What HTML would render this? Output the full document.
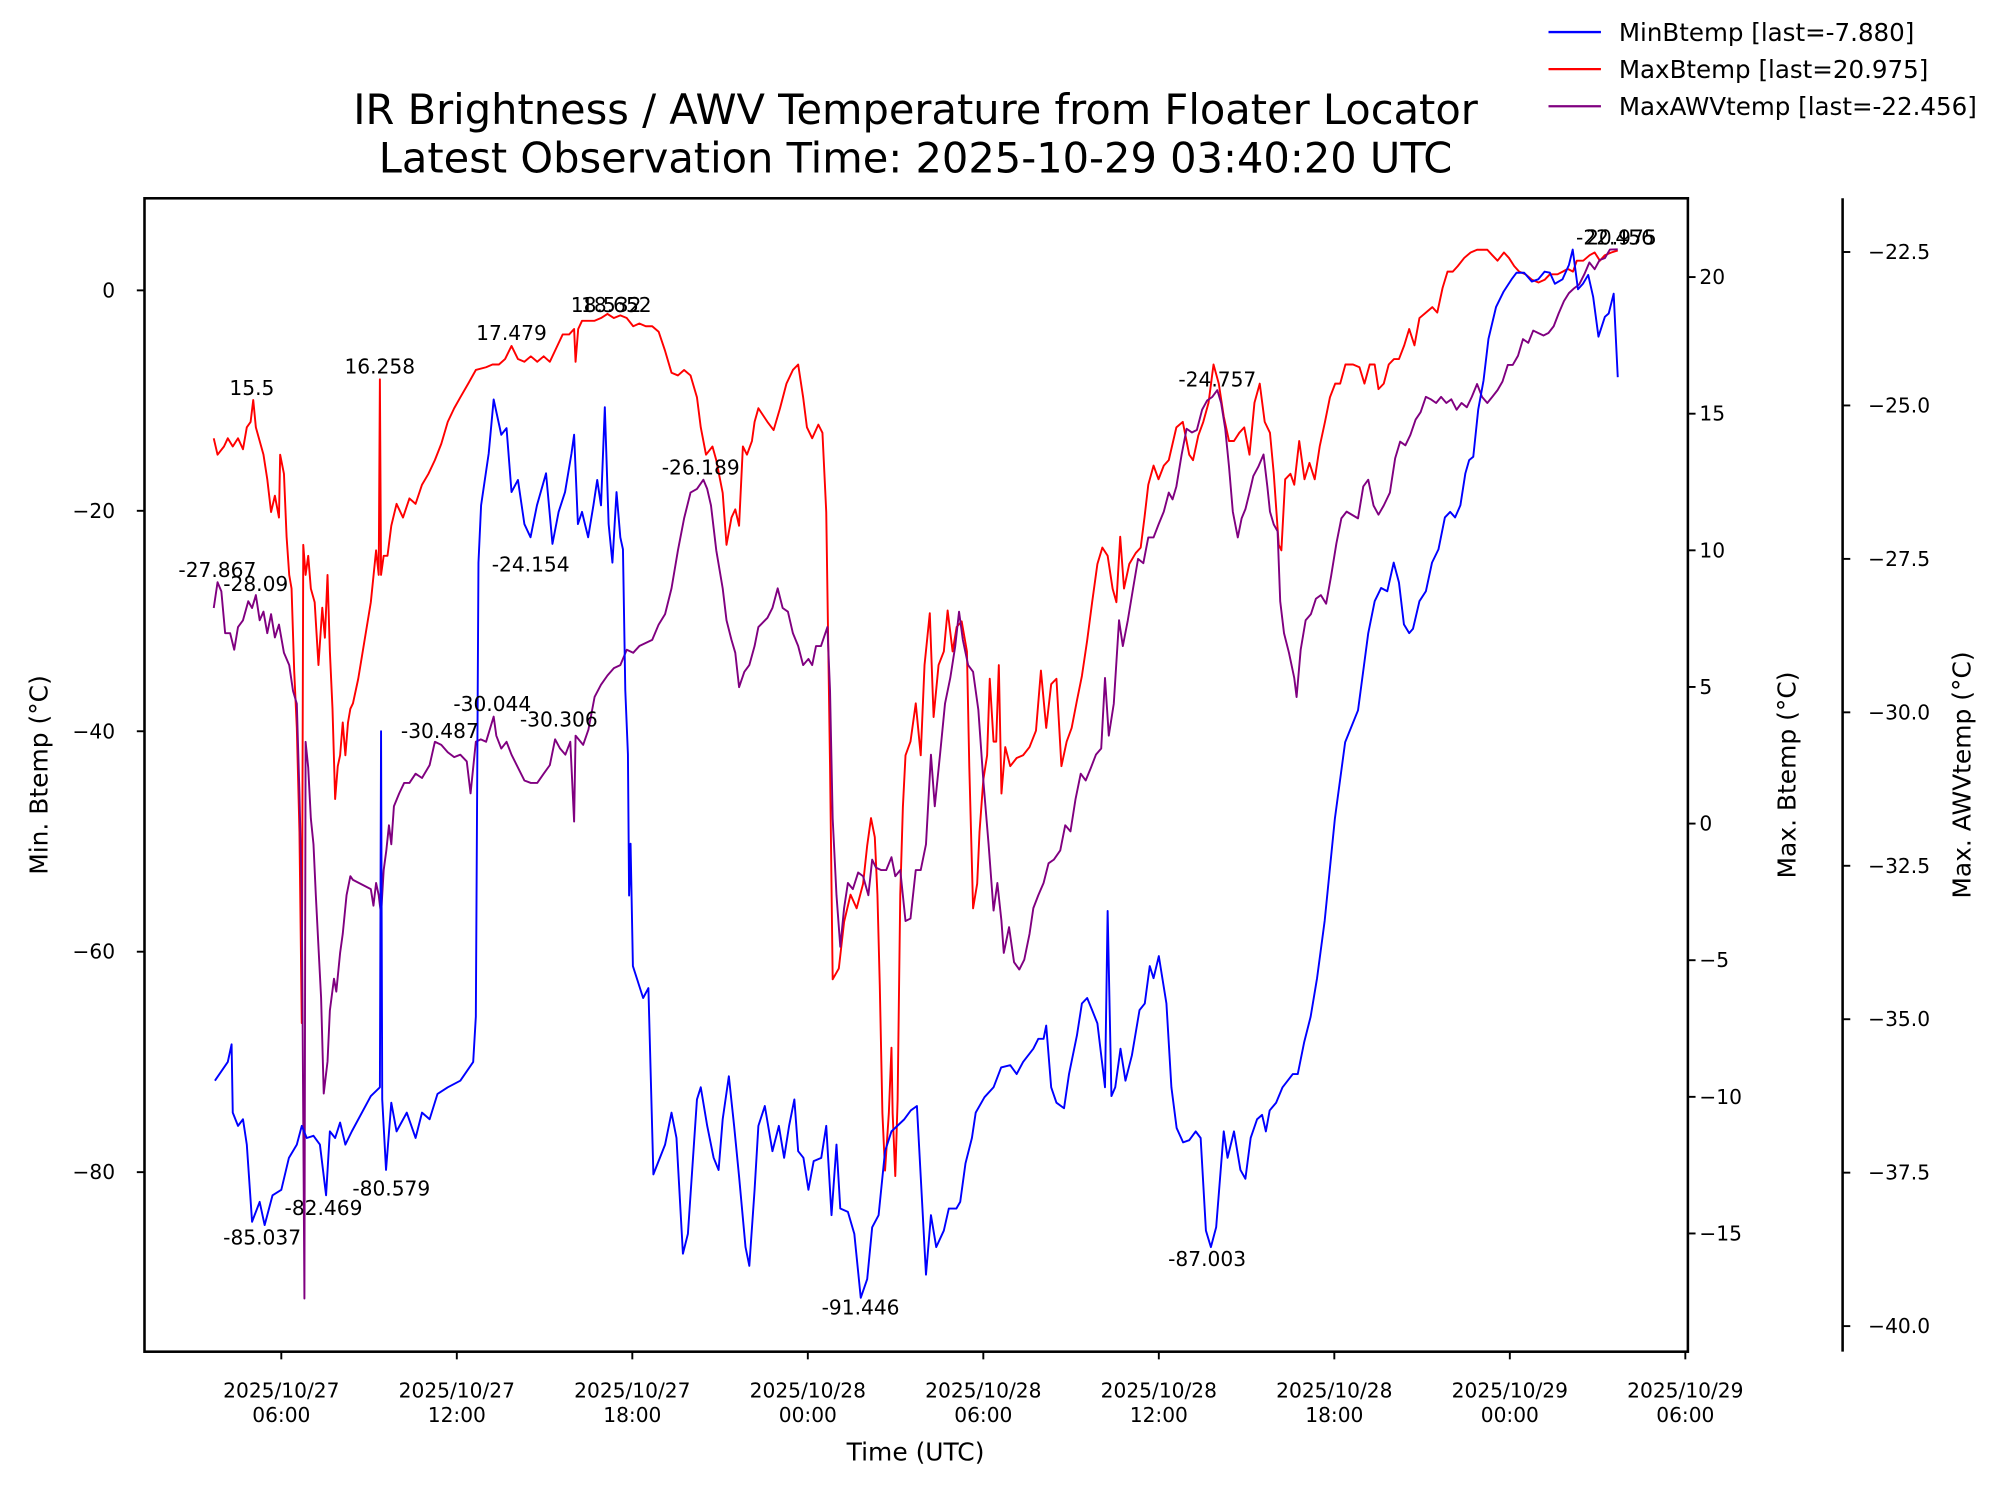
<!DOCTYPE html>
<html><head><meta charset="utf-8"><style>
html,body{margin:0;padding:0;background:#fff}
svg{display:block;font-family:"DejaVu Sans","Liberation Sans",sans-serif}
</style></head><body>
<svg id="chart" width="2005" height="1495" viewBox="0 0 1568 1169" xmlns="http://www.w3.org/2000/svg">
<rect width="1568" height="1169" fill="#fff"/>
<g id="title" font-size="32.5" text-anchor="middle" fill="#000">
<text x="716" y="97">IR Brightness / AWV Temperature from Floater Locator</text>
<text x="716" y="135">Latest Observation Time: 2025-10-29 03:40:20 UTC</text>
</g>
<g id="legend" font-size="19.2" fill="#000">
<g><line x1="1211" y1="25" x2="1252" y2="25" stroke="#0000ff" stroke-width="1.8"/><text x="1266" y="32">MinBtemp [last=-7.880]</text></g>
<g><line x1="1211" y1="54" x2="1252" y2="54" stroke="#ff0000" stroke-width="1.8"/><text x="1266" y="61">MaxBtemp [last=20.975]</text></g>
<g><line x1="1211" y1="83" x2="1252" y2="83" stroke="#800080" stroke-width="1.8"/><text x="1266" y="90">MaxAWVtemp [last=-22.456]</text></g>
</g>
<g id="series"></g>
<g id="axes"></g>
<g id="annots" font-size="15.8" text-anchor="middle" fill="#000"></g>
<text x="716" y="1142" font-size="19.5" text-anchor="middle">Time (UTC)</text>
<text transform="translate(37,606) rotate(-90)" font-size="19.5" text-anchor="middle">Min. Btemp (°C)</text>
<text transform="translate(1404,606) rotate(-90)" font-size="19.5" text-anchor="middle">Max. Btemp (°C)</text>
<text transform="translate(1541,606) rotate(-90)" font-size="19.5" text-anchor="middle">Max. AWVtemp (°C)</text>
</svg>
<script>
const tMin=[3.73,4.17,4.30,4.34,4.52,4.69,4.82,5.0,5.26,5.43,5.70,6.0,6.26,6.53,6.70,6.87,7.10,7.32,7.53,7.66,7.84,8.01,8.19,8.41,9.06,9.37,9.41,9.45,9.58,9.76,9.94,10.29,10.59,10.81,11.07,11.34,11.69,12.12,12.56,12.65,12.74,12.83,13.09,13.26,13.52,13.70,13.87,14.09,14.31,14.52,14.74,15.05,15.27,15.48,15.70,15.92,16.01,16.14,16.28,16.49,16.67,16.80,16.93,17.06,17.19,17.32,17.46,17.59,17.68,17.76,17.85,17.89,17.94,18.02,18.37,18.55,18.72,19.12,19.34,19.51,19.73,19.90,20.21,20.34,20.56,20.78,20.95,21.09,21.30,21.48,21.65,21.87,22.0,22.18,22.31,22.53,22.79,23.01,23.19,23.36,23.54,23.67,23.85,24.02,24.20,24.46,24.63,24.81,24.98,25.11,25.37,25.59,25.81,26.03,26.20,26.42,26.64,26.86,27.30,27.52,27.73,27.86,28.04,28.21,28.39,28.65,28.82,29.08,29.21,29.39,29.61,29.74,30.04,30.35,30.61,30.92,31.14,31.36,31.71,31.88,32.06,32.15,32.32,32.50,32.76,32.93,33.20,33.37,33.55,33.72,33.90,34.08,34.16,34.25,34.38,34.51,34.69,34.86,35.08,35.34,35.52,35.69,35.82,36.0,36.26,36.43,36.61,36.83,37.04,37.26,37.43,37.61,37.78,37.96,38.22,38.35,38.57,38.79,38.96,39.14,39.36,39.53,39.66,39.79,40.01,40.23,40.58,40.75,40.97,41.19,41.41,41.67,42.02,42.37,42.81,43.16,43.38,43.60,43.81,44.03,44.21,44.38,44.56,44.69,44.91,45.13,45.34,45.56,45.78,45.96,46.13,46.31,46.48,46.61,46.75,46.92,47.10,47.27,47.53,47.79,48.06,48.23,48.49,48.75,48.97,49.19,49.37,49.54,49.80,50.02,50.15,50.33,50.50,50.68,50.85,51.03,51.25,51.38,51.55,51.69];
const vMin=[-71.7,-70.0,-68.4,-74.6,-75.8,-75.2,-77.5,-84.5,-82.7,-84.8,-82.1,-81.6,-78.7,-77.5,-75.8,-76.9,-76.7,-77.5,-82.1,-76.3,-76.9,-75.5,-77.5,-76.3,-73.1,-72.3,-40.0,-73.4,-79.8,-73.7,-76.3,-74.6,-76.9,-74.6,-75.2,-72.9,-72.3,-71.7,-70.0,-65.9,-24.7,-19.5,-14.8,-9.9,-13.1,-12.5,-18.3,-17.2,-21.2,-22.4,-19.5,-16.6,-23.0,-20.1,-18.3,-14.8,-13.1,-21.2,-20.1,-22.4,-19.5,-17.2,-19.5,-10.6,-21.2,-24.7,-18.3,-22.4,-23.5,-36.3,-42.1,-54.9,-50.2,-61.3,-64.2,-63.3,-80.2,-77.5,-74.6,-76.9,-87.4,-85.6,-73.4,-72.3,-75.8,-78.7,-79.8,-75.2,-71.3,-75.8,-80.4,-86.8,-88.5,-81.6,-75.8,-74.0,-78.1,-75.8,-78.7,-75.8,-73.4,-78.1,-78.7,-81.6,-79.0,-78.7,-75.8,-83.9,-77.5,-83.3,-83.6,-85.6,-91.4,-89.7,-85.0,-83.9,-78.1,-76.3,-75.2,-74.4,-74.0,-80.4,-89.3,-83.9,-86.8,-85.3,-83.3,-83.3,-82.7,-79.2,-76.9,-74.6,-73.2,-72.3,-70.5,-70.3,-71.1,-70.0,-68.8,-67.9,-67.9,-66.7,-72.3,-73.7,-74.2,-71.1,-67.6,-64.7,-64.2,-65.3,-66.5,-70.5,-72.3,-56.3,-73.1,-72.3,-68.8,-71.7,-69.4,-65.3,-64.7,-61.3,-62.4,-60.4,-64.7,-72.3,-76.0,-77.3,-77.1,-76.3,-76.9,-85.3,-86.8,-85.0,-76.3,-78.7,-76.3,-79.8,-80.6,-76.9,-75.2,-74.8,-76.3,-74.4,-73.7,-72.3,-71.1,-71.1,-68.2,-65.9,-62.4,-57.2,-47.9,-41.0,-38.1,-31.1,-28.2,-27.0,-27.3,-24.7,-26.5,-30.3,-31.1,-30.7,-28.2,-27.3,-24.7,-23.5,-20.6,-20.1,-20.6,-19.5,-16.6,-15.4,-15.1,-10.8,-8.2,-4.4,-1.5,-0.1,1.0,1.6,1.6,0.8,1.0,1.7,1.6,0.6,1.0,2.3,3.7,0.1,0.6,1.4,-0.6,-4.2,-2.4,-2.1,-0.3,-7.88];
const tMax=[3.69,3.82,4.04,4.17,4.34,4.52,4.69,4.82,4.95,5.04,5.13,5.26,5.39,5.52,5.65,5.78,5.92,5.96,6.09,6.18,6.27,6.35,6.44,6.53,6.62,6.70,6.75,6.83,6.92,7.01,7.14,7.27,7.40,7.49,7.58,7.66,7.75,7.84,7.93,8.01,8.10,8.19,8.28,8.36,8.45,8.63,9.06,9.24,9.33,9.37,9.41,9.50,9.63,9.76,9.94,10.16,10.38,10.59,10.81,11.03,11.25,11.47,11.69,11.91,12.12,12.39,12.65,13.0,13.22,13.44,13.65,13.87,14.09,14.31,14.53,14.75,14.97,15.18,15.40,15.62,15.84,16.01,16.06,16.15,16.28,16.50,16.71,16.93,17.15,17.37,17.59,17.81,18.03,18.24,18.46,18.68,18.90,19.12,19.34,19.56,19.77,19.99,20.21,20.34,20.52,20.74,20.87,21.09,21.22,21.39,21.52,21.65,21.78,21.92,22.09,22.18,22.31,22.62,22.83,23.05,23.27,23.49,23.67,23.84,23.97,24.15,24.36,24.50,24.63,24.76,24.85,25.06,25.24,25.46,25.67,25.89,26.03,26.16,26.29,26.38,26.46,26.55,26.64,26.77,26.86,26.90,26.99,27.07,27.16,27.25,27.34,27.51,27.69,27.86,27.99,28.17,28.30,28.47,28.65,28.78,28.95,29.09,29.26,29.44,29.52,29.65,29.79,29.87,30.0,30.13,30.22,30.35,30.44,30.53,30.62,30.75,30.92,31.14,31.36,31.58,31.80,31.97,32.15,32.32,32.50,32.67,32.85,33.02,33.20,33.37,33.55,33.72,33.90,34.07,34.25,34.42,34.55,34.68,34.81,34.99,35.21,35.38,35.51,35.64,35.82,35.99,36.17,36.34,36.47,36.60,36.82,37.04,37.17,37.35,37.52,37.70,37.87,38.05,38.22,38.40,38.57,38.75,38.92,39.10,39.27,39.45,39.62,39.80,39.93,40.10,40.19,40.32,40.50,40.63,40.80,40.98,41.15,41.33,41.50,41.68,41.85,42.03,42.20,42.38,42.64,42.86,43.03,43.21,43.38,43.51,43.69,43.86,44.04,44.21,44.39,44.56,44.74,44.91,45.13,45.35,45.52,45.70,45.87,46.05,46.22,46.44,46.66,46.88,47.23,47.40,47.58,47.80,47.97,48.15,48.32,48.54,48.76,48.98,49.19,49.37,49.63,49.81,49.98,50.16,50.29,50.51,50.73,50.90,51.08,51.25,51.47,51.69];
const vMax=[14.1,13.5,13.8,14.1,13.8,14.1,13.7,14.5,14.7,15.5,14.5,14.0,13.5,12.6,11.4,12.0,11.2,13.5,12.8,10.5,9.1,8.6,5.6,3.5,-0.3,-7.3,10.2,9.1,9.8,8.6,8.1,5.8,7.9,6.8,9.1,6.3,4.2,0.9,2.1,2.5,3.7,2.5,3.7,4.2,4.4,5.3,8.1,10.0,9.1,16.258,9.1,9.8,9.8,10.9,11.7,11.2,11.9,11.7,12.4,12.8,13.3,13.9,14.7,15.2,15.6,16.1,16.6,16.7,16.8,16.8,17.0,17.479,17.0,16.9,17.1,16.9,17.1,16.9,17.4,17.9,17.9,18.1,16.9,18.1,18.4,18.4,18.4,18.5,18.652,18.5,18.6,18.5,18.2,18.3,18.2,18.2,18.0,17.3,16.5,16.4,16.6,16.4,15.6,14.5,13.5,13.8,13.3,12.1,10.2,11.2,11.5,10.9,13.8,13.5,14.0,14.7,15.2,14.7,14.4,15.2,16.1,16.6,16.8,15.6,14.5,14.1,14.6,14.3,11.4,2.1,-5.7,-5.3,-3.6,-2.6,-3.1,-2.2,-0.8,0.2,-0.5,-2.6,-5.9,-10.6,-12.7,-10.6,-8.2,-10.6,-12.9,-10.1,-2.6,0.6,2.5,3.0,4.4,2.5,5.8,7.7,3.9,5.8,6.3,7.8,6.3,7.2,7.4,6.3,2.1,-3.1,-2.2,-0.3,1.6,2.5,5.3,3.0,3.0,5.8,1.1,2.8,2.1,2.4,2.5,2.8,3.4,5.6,3.5,5.1,5.3,2.1,3.0,3.5,4.5,5.4,6.7,8.1,9.5,10.1,9.8,8.6,8.1,10.5,8.6,9.5,9.9,10.1,11.2,12.4,13.1,12.6,13.1,13.3,13.9,14.5,14.7,13.5,13.3,14.2,14.7,15.4,16.8,16.1,14.9,14.0,14.0,14.3,14.5,13.5,15.4,16.1,14.7,14.3,12.8,10.2,10.0,12.6,12.8,12.4,14.0,12.6,13.2,12.6,13.8,14.7,15.6,16.1,16.1,16.8,16.8,16.7,16.1,16.8,16.8,15.9,16.1,16.8,17.0,17.0,17.5,18.1,17.5,18.5,18.7,18.9,18.7,19.6,20.2,20.2,20.4,20.7,20.9,21.0,21.0,20.8,20.6,20.9,20.7,20.4,20.2,20.1,19.9,19.8,19.9,20.1,20.1,20.2,20.3,20.2,20.6,20.6,20.8,20.9,20.6,20.8,20.9,20.975];
const tAwv=[3.69,3.82,3.95,4.08,4.25,4.39,4.52,4.69,4.87,5.0,5.13,5.26,5.39,5.52,5.65,5.78,5.92,6.09,6.27,6.40,6.53,6.62,6.70,6.79,6.83,6.92,7.01,7.10,7.18,7.27,7.36,7.45,7.58,7.66,7.80,7.88,8.01,8.10,8.23,8.36,8.45,9.06,9.15,9.24,9.33,9.41,9.50,9.59,9.68,9.76,9.85,10.03,10.20,10.38,10.59,10.81,11.07,11.25,11.47,11.69,11.91,12.12,12.34,12.47,12.65,12.82,13.0,13.26,13.35,13.52,13.70,13.87,14.09,14.31,14.53,14.75,14.97,15.18,15.36,15.53,15.71,15.88,16.01,16.06,16.32,16.50,16.71,16.93,17.15,17.37,17.59,17.81,18.03,18.24,18.68,18.90,19.12,19.34,19.56,19.77,19.99,20.21,20.43,20.56,20.69,20.87,21.09,21.22,21.39,21.52,21.65,21.83,22.0,22.18,22.31,22.62,22.79,22.97,23.14,23.32,23.49,23.67,23.84,24.02,24.15,24.28,24.45,24.67,24.76,24.85,24.98,25.11,25.24,25.37,25.54,25.72,25.89,26.07,26.20,26.33,26.51,26.68,26.86,26.99,27.16,27.34,27.51,27.69,27.86,28.04,28.21,28.34,28.52,28.69,28.87,29.04,29.17,29.30,29.48,29.65,29.83,30.0,30.18,30.35,30.48,30.62,30.70,30.88,31.05,31.23,31.40,31.58,31.71,31.88,32.06,32.23,32.41,32.63,32.80,32.98,33.15,33.33,33.50,33.68,33.85,34.03,34.16,34.29,34.46,34.64,34.77,34.94,35.12,35.29,35.47,35.64,35.82,35.99,36.17,36.34,36.47,36.60,36.78,36.95,37.13,37.30,37.48,37.65,37.83,38.0,38.13,38.27,38.40,38.53,38.70,38.83,38.96,39.10,39.23,39.40,39.58,39.71,39.80,39.93,40.06,40.15,40.28,40.45,40.63,40.71,40.85,41.02,41.20,41.37,41.54,41.72,41.89,42.07,42.24,42.42,42.81,42.99,43.16,43.34,43.51,43.69,43.90,44.08,44.25,44.43,44.60,44.78,44.95,45.13,45.30,45.48,45.65,45.83,46.00,46.18,46.35,46.53,46.70,46.88,47.05,47.23,47.40,47.58,47.75,47.93,48.10,48.28,48.45,48.63,48.80,48.97,49.15,49.32,49.50,49.67,49.85,50.02,50.20,50.37,50.55,50.72,50.90,51.07,51.25,51.42,51.69];
const vAwv=[-28.30,-27.88,-28.03,-28.71,-28.71,-28.98,-28.61,-28.50,-28.19,-28.30,-28.09,-28.50,-28.36,-28.71,-28.40,-28.78,-28.57,-29.03,-29.23,-29.65,-29.86,-31.32,-32.98,-39.55,-30.48,-30.90,-31.73,-32.15,-32.98,-33.82,-34.65,-36.21,-35.69,-34.86,-34.34,-34.55,-33.92,-33.61,-32.98,-32.67,-32.73,-32.88,-33.15,-32.78,-32.98,-33.30,-32.57,-32.25,-31.84,-32.15,-31.53,-31.32,-31.15,-31.15,-31.00,-31.07,-30.86,-30.48,-30.53,-30.65,-30.73,-30.69,-30.80,-31.32,-30.48,-30.44,-30.48,-30.07,-30.38,-30.59,-30.48,-30.69,-30.90,-31.11,-31.15,-31.15,-31.00,-30.86,-30.44,-30.59,-30.69,-30.48,-31.78,-30.38,-30.53,-30.28,-29.75,-29.55,-29.40,-29.28,-29.23,-28.98,-29.03,-28.92,-28.82,-28.57,-28.40,-27.98,-27.36,-26.84,-26.42,-26.36,-26.21,-26.36,-26.63,-27.36,-27.98,-28.50,-28.82,-29.03,-29.59,-29.34,-29.23,-28.92,-28.61,-28.46,-28.30,-27.98,-28.30,-28.36,-28.71,-28.92,-29.23,-29.13,-29.23,-28.92,-28.92,-28.61,-29.65,-31.73,-32.98,-33.82,-33.19,-32.78,-32.88,-32.61,-32.67,-32.98,-32.40,-32.53,-32.57,-32.57,-32.36,-32.67,-32.57,-33.40,-33.36,-32.57,-32.57,-32.15,-30.69,-31.53,-30.69,-29.86,-29.44,-28.92,-28.36,-28.82,-29.23,-29.34,-29.96,-31.11,-32.15,-33.23,-32.78,-33.40,-33.92,-33.50,-34.07,-34.19,-34.03,-33.61,-33.19,-32.98,-32.78,-32.46,-32.40,-32.25,-31.84,-31.94,-31.42,-31.00,-31.11,-30.90,-30.69,-30.59,-29.44,-30.38,-29.86,-28.50,-28.92,-28.50,-27.98,-27.50,-27.57,-27.15,-27.15,-26.94,-26.73,-26.42,-26.53,-26.32,-25.80,-25.38,-25.44,-25.40,-25.07,-24.92,-24.86,-24.75,-24.96,-25.38,-26.00,-26.73,-27.15,-26.84,-26.69,-26.42,-26.15,-26.00,-25.80,-26.32,-26.73,-26.94,-27.05,-28.19,-28.71,-29.03,-29.44,-29.75,-28.98,-28.50,-28.40,-28.15,-28.09,-28.23,-27.78,-27.25,-26.84,-26.73,-26.84,-26.32,-26.21,-26.63,-26.78,-26.63,-26.42,-25.86,-25.59,-25.65,-25.48,-25.23,-25.11,-24.86,-24.90,-24.96,-24.86,-24.96,-24.90,-25.07,-24.96,-25.03,-24.86,-24.65,-24.86,-24.96,-24.86,-24.75,-24.61,-24.34,-24.34,-24.19,-23.92,-23.98,-23.78,-23.82,-23.86,-23.82,-23.71,-23.50,-23.30,-23.17,-23.09,-23.03,-22.86,-22.67,-22.78,-22.63,-22.60,-22.46,-22.456];
const minTicks=[0,-20,-40,-60,-80];
const maxTicks=[20,15,10,5,0,-5,-10,-15];
const awvTicks=[-22.5,-25.0,-27.5,-30.0,-32.5,-35.0,-37.5,-40.0];
const xTickHours=[6,12,18,24,30,36,42,48,54];
const xTickDates=["2025/10/27","2025/10/27","2025/10/27","2025/10/28","2025/10/28","2025/10/28","2025/10/28","2025/10/29","2025/10/29"];
const xTickTimes=["06:00","12:00","18:00","00:00","06:00","12:00","18:00","00:00","06:00"];
const annText=["15.5","16.258","17.479","18.532","18.652","-27.867","-28.09","-85.037","-82.469","-80.579","-30.487","-30.044","-30.306","-24.154","-26.189","-91.446","-24.757","-87.003","-22.456","20.975"];

const PL=113,PR=1320,PT=155,PB=1057;
function xS(h){return 220+(h-6)*22.875;}
function yMin(v){return 227-v*8.62;}
function yMax(v){return 644-v*21.37;}
function yAwv(v){return 197+(-22.5-v)*48;}
const NS="http://www.w3.org/2000/svg";
function mk(tag,attrs,parent){const e=document.createElementNS(NS,tag);for(const k in attrs)e.setAttribute(k,attrs[k]);parent.appendChild(e);return e;}
const series=document.getElementById('series');
function line(ts,vs,yf,color,name){
  let d='';for(let i=0;i<ts.length;i++){d+=(i?'L':'M')+xS(ts[i]).toFixed(2)+','+yf(vs[i]).toFixed(2);}
  const p=mk('path',{d:d,fill:'none',stroke:color,'stroke-width':1.5,'stroke-linejoin':'round'},series);
  
  
}
line(tMax,vMax,yMax,'#ff0000','maxbtemp-line');
line(tAwv,vAwv,yAwv,'#800080','maxawvtemp-line');
line(tMin,vMin,yMin,'#0000ff','minbtemp-line');

const axes=document.getElementById('axes');
const frame=mk('rect',{x:PL,y:PT,width:PR-PL,height:PB-PT,fill:'none',stroke:'#000','stroke-width':2},axes);


const sp=mk('line',{x1:1441,y1:PT,x2:1441,y2:PB,stroke:'#000','stroke-width':2},axes);


function fmt(v,dec){const s=Math.abs(v).toFixed(dec);return (v<0?'\u2212':'')+s;}
minTicks.forEach(v=>{const y=yMin(v);
  mk('line',{x1:PL-6,y1:y,x2:PL,y2:y,stroke:'#000','stroke-width':1.5},axes);
  const t=mk('text',{x:PL-23,y:y+5.5,'font-size':15.8,'text-anchor':'end'},axes);t.textContent=fmt(v,0);
  
  
});
maxTicks.forEach(v=>{const y=yMax(v);
  mk('line',{x1:PR,y1:y,x2:PR+6,y2:y,stroke:'#000','stroke-width':1.5},axes);
  const t=mk('text',{x:PR+9,y:y+5.5,'font-size':15.8},axes);t.textContent=fmt(v,0);
  
  
});
awvTicks.forEach(v=>{const y=yAwv(v);
  mk('line',{x1:1441,y1:y,x2:1447,y2:y,stroke:'#000','stroke-width':1.5},axes);
  const t=mk('text',{x:1461,y:y+5.5,'font-size':15.8},axes);t.textContent=fmt(v,1);
  
  
});
xTickHours.forEach((h,i)=>{const x=xS(h);
  mk('line',{x1:x,y1:PB,x2:x,y2:PB+6,stroke:'#000','stroke-width':1.5},axes);
  const t=mk('text',{x:x,y:PB+36,'font-size':15.8,'text-anchor':'middle'},axes);t.textContent=xTickDates[i];
  
  
  const t2=mk('text',{x:x,y:PB+55,'font-size':15.8,'text-anchor':'middle'},axes);t2.textContent=xTickTimes[i];
  
  
});
const annPos=[[197,309],[297,292],[400,266],[474,244],[482,244],[170,451],[200,462],[205,973],[253,950],[306,935],[344,577],[385,556],[437,568],[415,447],[548,371],[673,1028],[952,302],[944,990],[1263,191],[1268,191]];
const ann=document.getElementById('annots');
annText.forEach((s,i)=>{const t=mk('text',{x:annPos[i][0],y:annPos[i][1]},ann);t.textContent=s;
  
  
});
</script>
</body></html>
